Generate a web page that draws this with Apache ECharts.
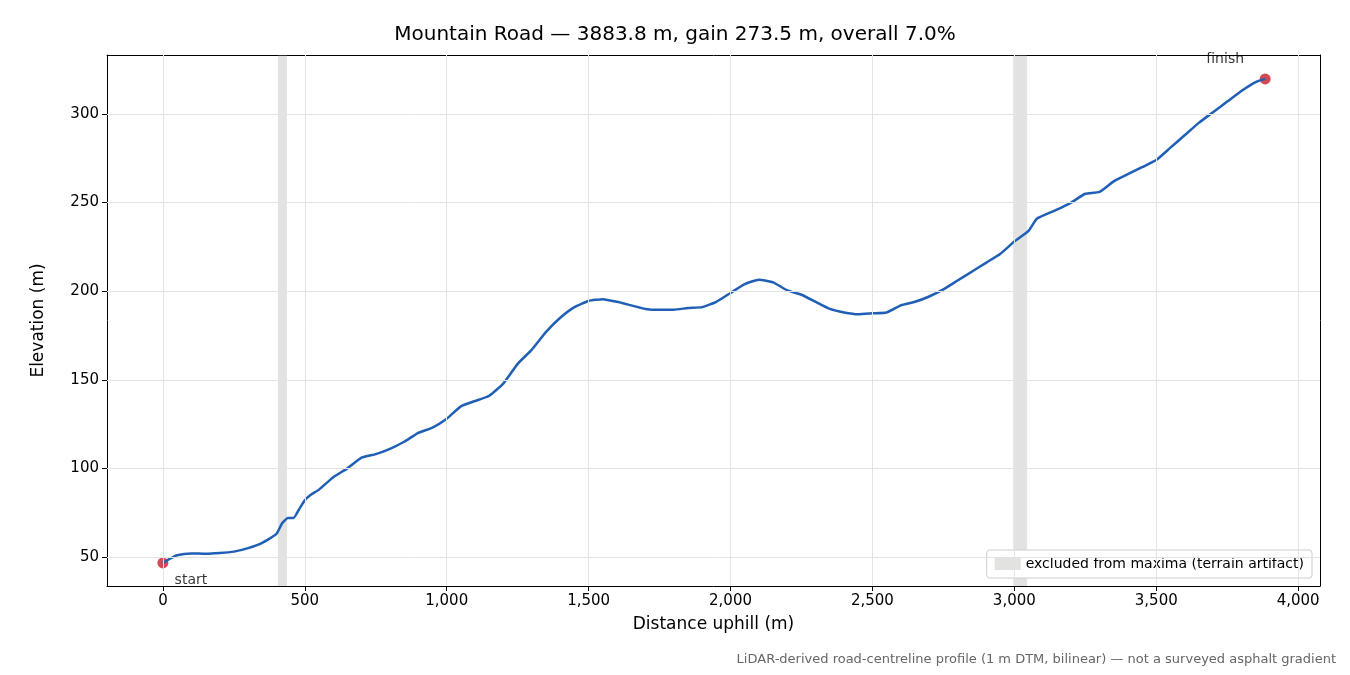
<!DOCTYPE html>
<html><head><meta charset="utf-8">
<script src="https://cdn.jsdelivr.net/npm/echarts@6/dist/echarts.min.js"></script>
<style>html,body{margin:0;background:#fff}#c{width:1350px;height:675px}</style>
</head><body><div id="c"></div>
<script>
// profile
var dist = [0,25,50,100,150,200,250,300,350,400,420,440,460,480,500,520,550,600,650,700,750,800,850,900,950,1000,1050,1100,1150,1200,1250,1300,1350,1400,1450,1500,1550,1600,1650,1700,1750,1800,1850,1900,1950,2000,2050,2100,2150,2200,2250,2300,2350,2400,2450,2500,2550,2600,2650,2700,2750,2800,2850,2900,2950,3000,3050,3080,3150,3200,3250,3300,3350,3400,3450,3500,3550,3600,3650,3700,3750,3800,3850,3883.8];
var elev = [46.6,49,51,52,51.8,52.2,53,55,58,63,69,72,72,77,82,85,88,95,100,106,108,111,115,120,123,128,135,138,141,148,159,167,177,185,191,194.5,195.5,194,192,190,189.5,189.5,190.5,191,194,199,204,206.5,205,200.5,198,194,190,188,187,187.5,188,192,194,197,201,206,211,216,221,228,234,241,246,250,255,256,262,266,270,274,281,288,295,301,307,313,318,319.8];
var bands = [[405,437],[2996,3045]];
var endpoints = [[0,46.6,'start'],[3883.8,319.8,'finish']];
var xTicks = [0,500,1000,1500,2000,2500,3000,3500,4000];
var yTicks = [50,100,150,200,250,300];

var chart = echarts.init(document.getElementById('c'));
var font = 'DejaVu Sans';
var gridLine = {color: '#e3e3e3', width: 1, type: 'solid'};
var frameAxis = {axisLine: {show: true, onZero: false, lineStyle: {color: '#000'}}, axisTick: {show: false},
  axisLabel: {show: false}, splitLine: {show: false}};
chart.setOption({
  animation: false,
  textStyle: {fontFamily: font},
  title: {text: 'Mountain Road \u2014 3883.8 m, gain 273.5 m, overall 7.0%', left: 'center', top: 20,
    textStyle: {fontFamily: font, fontSize: 20, fontWeight: 'normal', color: '#000'}},
  graphic: [{type: 'text', right: 14, top: 653, style: {text: 'LiDAR-derived road-centreline profile (1 m DTM, bilinear) \u2014 not a surveyed asphalt gradient', fill: '#666', font: '13px DejaVu Sans'}}],
  legend: {right: 38, bottom: 97, orient: 'vertical', itemWidth: 26, itemHeight: 12,
    backgroundColor: '#fff', borderColor: '#ccc', borderWidth: 1, borderRadius: 3, padding: [7, 8],
    textStyle: {fontFamily: font, fontSize: 14, color: '#000'},
    data: [{name: 'excluded from maxima (terrain artifact)', icon: 'rect'}]},
  grid: {left: 107, right: 30, top: 55, bottom: 89},
  xAxis: [{type: 'value', min: -197, max: 4077,
    name: 'Distance uphill (m)', nameLocation: 'middle', nameGap: 30,
    nameTextStyle: {fontSize: 17, color: '#000'},
    axisLine: {onZero: false, lineStyle: {color: '#000'}},
    axisTick: {length: 5, lineStyle: {color: '#000'}, customValues: xTicks},
    axisLabel: {fontSize: 15, color: '#000', customValues: xTicks},
    splitLine: {show: false}},
    Object.assign({type: 'value', position: 'top', min: -197, max: 4077}, frameAxis)],
  yAxis: [{type: 'value', min: 33.6, max: 333.3,
    name: 'Elevation (m)', nameLocation: 'middle', nameGap: 60,
    nameTextStyle: {fontSize: 17, color: '#000'},
    axisLine: {show: true, onZero: false, lineStyle: {color: '#000'}},
    axisTick: {show: true, length: 5, lineStyle: {color: '#000'}, customValues: yTicks},
    axisLabel: {fontSize: 15, color: '#000', customValues: yTicks},
    splitLine: {show: false}},
    Object.assign({type: 'value', position: 'right', min: 33.6, max: 333.3}, frameAxis)],
  series: [
    {name: 'excluded from maxima (terrain artifact)', type: 'line', data: [],
      itemStyle: {color: 'rgba(160,160,155,0.3)', borderColor: 'rgba(130,130,125,0.4)'},
      markLine: {silent: true, symbol: 'none', label: {show: false}, lineStyle: gridLine,
        data: xTicks.map(function (v) { return {xAxis: v}; })
          .concat(yTicks.map(function (v) { return {yAxis: v}; }))},
      markArea: {silent: true, itemStyle: {color: 'rgba(150,150,145,0.28)'},
        data: bands.map(function (b) { return [{xAxis: b[0]}, {xAxis: b[1]}]; })}},
    {name: 'profile', type: 'line', showSymbol: false, smooth: 0.15,
      lineStyle: {color: '#1f5fb5', width: 2.5},
      data: dist.map(function (d, i) { return [d, elev[i]]; })},
    {name: 'ends', type: 'scatter', symbolSize: 11, itemStyle: {color: '#c81c28'},
      data: endpoints.map(function (p) { return {value: [p[0], p[1]], label: {show: true,
        formatter: p[2], fontSize: 14, color: '#000',
        position: p[2] === 'start' ? 'bottom' : 'top',
        offset: p[2] === 'start' ? [28, 0] : [-40, -2]}}; })}
  ]
});
</script></body></html>
